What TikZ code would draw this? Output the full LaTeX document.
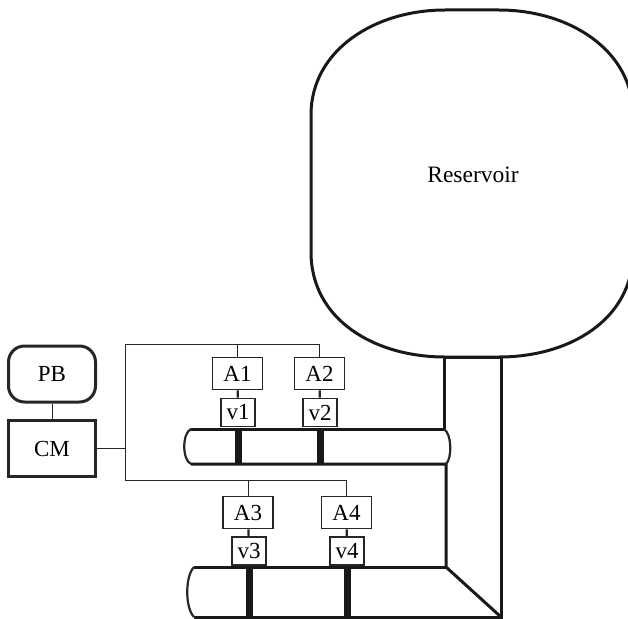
\documentclass[tikz,border=0pt]{standalone}
\usepackage{fontspec}
\setmainfont{Liberation Serif}
\usetikzlibrary{positioning}
\tikzset{
  box/.style={draw=black!85, line width=1.7pt, fill=white, inner sep=0pt, font=\fontsize{23}{25}\selectfont},
  abox/.style={box, minimum width=50pt, minimum height=32pt},
  vbox/.style={box, minimum width=34pt, minimum height=28pt},
  ctrl/.style={draw=black!85, line width=3pt, minimum width=87pt, minimum height=56pt, font=\fontsize{23}{25}\selectfont},
  wire/.style={draw=black!85, line width=1pt},
  link/.style={draw=black!85, line width=2.2pt},
  pipe/.style={draw=black!90, line width=3pt},
  pipeend/.style={draw=black!85, line width=2.2pt},
  gate/.style={draw=black!90, line width=7pt}}
\begin{document}
\begin{tikzpicture}[x=1pt,y=-1pt]
    \useasboundingbox (0,0) rectangle (628,618);
    % reservoir
    \coordinate (rtl) at (445,10);
    \coordinate (rtr) at (499,10);
    \coordinate (rbl) at (445,357);
    \coordinate (rbr) at (499,357);
    \draw[pipe] (rtl) -- (rtr) .. controls (569,10) and (633,50) .. (633,115) -- (633,252) .. controls (633,320) and (569,357) .. (rbr) -- (rbl) .. controls (375,357) and (311,320) .. (311,252) -- (311,115) .. controls (311,50) and (375,10) .. (rtl) -- cycle;
    \node[font=\fontsize{23.5}{25}\selectfont] (res) at (473,175) {Reservoir};
    % pipes
    \coordinate (tl) at (444,357);
    \coordinate (tr) at (501,357);
    \coordinate (ul) at (191,429);
    \coordinate (ur) at (444,429);
    \coordinate (ubl) at (191,464);
    \coordinate (ubr) at (446,464);
    \coordinate (ll) at (194,567);
    \coordinate (lr) at (446,567);
    \coordinate (lbl) at (194,617);
    \coordinate (lbr) at (501,617);
    \draw[pipe] (ur) -- (tl) -- (tr) -- (lbr) -- (lbl);
    \draw[pipe] (ul) -- (ur);
    \draw[pipe] (ubl) -- (ubr) -- (lr) -- (lbr);
    \draw[pipe] (ll) -- (lr);
    \draw[pipeend] (ul) .. controls (182,433) and (182,460) .. (ubl);
    \draw[pipeend] (ur) .. controls (452,434) and (452,459) .. (ubr);
    \draw[pipeend] (ll) .. controls (185,576) and (185,608) .. (lbl);
    % actuators and valves
    \node[abox] (a1) at (237.5,373.5) {A1};
    \node[abox] (a2) at (319.5,373.5) {A2};
    \node[vbox] (v1) at (238,412.5) {v1};
    \node[vbox] (v2) at (320,412.5) {v2};
    \node[abox] (a3) at (248,512.5) {A3};
    \node[abox] (a4) at (346.5,512.5) {A4};
    \node[vbox] (v3) at (249,551) {v3};
    \node[vbox] (v4) at (347,551) {v4};
    \foreach \n in {1,...,4}
      \draw[link] (a\n) -- (v\n);
    \draw[gate] (v1.south |- ul) -- (v1.south |- ubl);
    \draw[gate] (v2.south |- ul) -- (v2.south |- ubl);
    \draw[gate] (v3.south |- ll) -- (v3.south |- lbl);
    \draw[gate] (v4.south |- ll) -- (v4.south |- lbl);
    % controls
    \node[ctrl, rounded corners=16pt] (pb) at (52,374) {PB};
    \node[ctrl] (cm) at (52,448.5) {CM};
    \draw[wire] (pb) -- (cm);
    \coordinate (busa) at (125,344);
    \coordinate (busb) at (125,480);
    \coordinate (busc) at (125,448.5);
    \draw[wire] (cm) -- (busc);
    \draw[wire] (a2.north) -- (a2.north |- busa) -- (busa) -- (busb) -- (busb -| a4.north) -- (a4.north);
    \draw[wire] (a1.north) -- (a1.north |- busa);
    \draw[wire] (a3.north) -- (a3.north |- busb);
\end{tikzpicture}
\end{document}
